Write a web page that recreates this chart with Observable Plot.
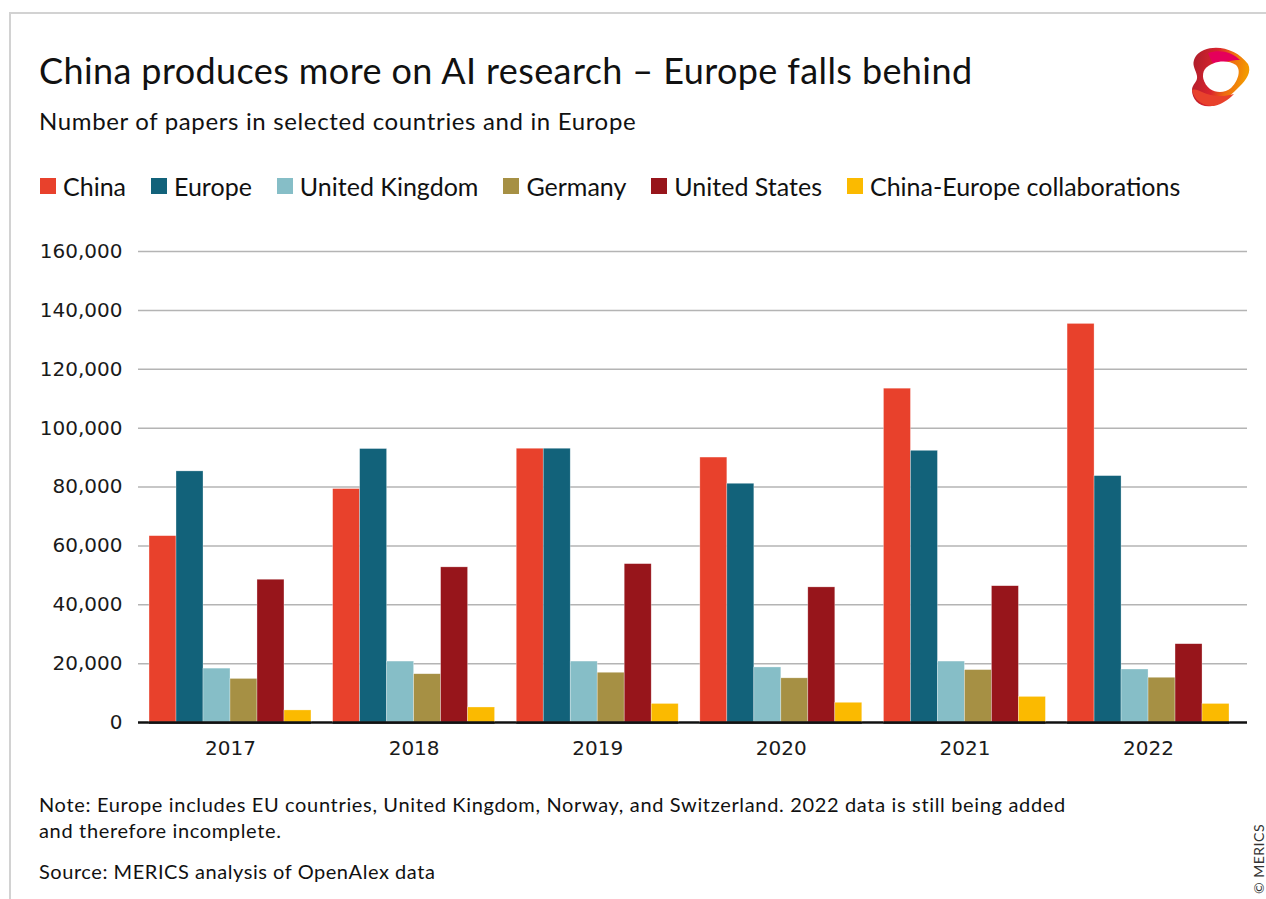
<!DOCTYPE html>
<html>
<head>
<meta charset="utf-8">
<script src="https://cdn.jsdelivr.net/npm/d3@7"></script>
<script src="https://cdn.jsdelivr.net/npm/@observablehq/plot@0.6"></script>
<style>
  html, body { margin: 0; padding: 0; background: #fff; }
  body { width: 1266px; height: 899px; position: relative; overflow: hidden; font-family: Lato, "Noto Sans", sans-serif; color: #111; }
  .frame { position: absolute; left: 9px; top: 12px; width: 1400px; height: 1000px; border-top: 2px solid #d2d2d2; border-left: 2px solid #d2d2d2; }
  .title { position: absolute; left: 39px; top: 49px; font-size: 36px; line-height: 1.2; letter-spacing: 0.4px; white-space: nowrap; }
  .subtitle { position: absolute; left: 39px; top: 107px; font-size: 24px; line-height: 1.2; letter-spacing: 0.65px; white-space: nowrap; }
  .legend { position: absolute; left: 40px; top: 171px; display: flex; align-items: center; font-size: 25px; line-height: 30px; white-space: nowrap; }
  .legend .item { display: flex; align-items: center; margin-right: 25px; }
  .legend .sw { width: 16px; height: 16px; margin-right: 7px; }
  #chart { position: absolute; left: 0; top: 230px; width: 1266px; height: 540px; }
  #chart svg { position: absolute; left: 0; top: 0; }
  .note { position: absolute; left: 39px; top: 791px; font-size: 20px; line-height: 26px; letter-spacing: 0.66px; white-space: nowrap; }
  .source { position: absolute; left: 39px; top: 858px; font-size: 20px; line-height: 26px; letter-spacing: 0.55px; white-space: nowrap; }
  .copy { position: absolute; left: 1258px; top: 859px; font-size: 14px; color: #333; transform: translate(-50%, -50%) rotate(-90deg); white-space: nowrap; letter-spacing: 0.5px; }
  .logo { position: absolute; left: 1186px; top: 42px; }
</style>
</head>
<body>
<div class="frame"></div>
<div class="title">China produces more on AI research – Europe falls behind</div>
<div class="subtitle">Number of papers in selected countries and in Europe</div>
<div class="legend" id="legend"></div>
<div id="chart"></div>
<div class="note">Note: Europe includes EU countries, United Kingdom, Norway, and Switzerland. 2022 data is still being added<br>and therefore incomplete.</div>
<div class="source">Source: MERICS analysis of OpenAlex data</div>
<div class="copy">© MERICS</div>
<svg class="logo" width="68" height="68" viewBox="0 0 68 68">
  <defs>
    <linearGradient id="lg" x1="0" y1="0" x2="1" y2="0.2">
      <stop offset="0" stop-color="#a81d2a"/>
      <stop offset="0.45" stop-color="#d9232e"/>
      <stop offset="0.7" stop-color="#ee6a12"/>
      <stop offset="1" stop-color="#f39a00"/>
    </linearGradient>
  </defs>
  <path d="M18,8 C32,2 52,8 62,22 C66,30 60,38 54,44 C46,52 38,60 26,64 C14,66 6,58 6,48 C6,42 12,40 11,34 C10,28 6,24 8,18 C10,12 14,10 18,8 Z" fill="url(#lg)"/>
  <path d="M22,11 C34,7 46,10 54,18 C44,18 36,20 30,25 C26,21 24,16 22,11 Z" fill="#e5005b"/>
  <path d="M6,48 C8,58 16,64 28,64 C36,62 42,58 48,52 C38,55 26,55 16,50 C12,48 9,47 6,48 Z" fill="#e8412c"/>
  <path d="M19,27 C26,19 41,17 50,23 C56,29 51,40 45,46 C39,51 30,51 24,47 C17,41 15,33 19,27 Z" fill="#fff"/>
</svg>
<script>
// ---- data ----
const years = ["2017", "2018", "2019", "2020", "2021", "2022"];
const series = ["China", "Europe", "United Kingdom", "Germany", "United States", "China-Europe collaborations"];
const colors = ["#e8412c", "#12627a", "#86bec7", "#a69044", "#97151b", "#fbba00"];
const china   = [63300, 79300, 93000, 90000, 113400, 135400];
const europe  = [85300, 92900, 93000, 81100, 92300, 83700];
const uk      = [18300, 20700, 20700, 18700, 20700, 18000];
const germany = [14800, 16400, 16900, 15000, 17800, 15200];
const us      = [48500, 52700, 53800, 45900, 46300, 26600];
const collab  = [4100, 5100, 6300, 6700, 8700, 6300];
const yTicks  = [0, 20000, 40000, 60000, 80000, 100000, 120000, 140000, 160000];

const values = [china, europe, uk, germany, us, collab];
const table = [];
years.forEach((yr, i) => series.forEach((s, j) => table.push({year: yr, series: s, value: values[j][i]})));

// legend
const legend = document.getElementById("legend");
series.forEach((s, j) => {
  const it = document.createElement("div");
  it.className = "item";
  it.innerHTML = `<span class="sw" style="background:${colors[j]}"></span><span>${s}</span>`;
  legend.appendChild(it);
});

const fmt = d3.format(",");
const common = {
  width: 1266,
  height: 540,
  marginLeft: 138,
  marginRight: 19,
  marginTop: 21,
  marginBottom: 48,
  style: {fontFamily: "'DejaVu Sans', sans-serif", fontSize: "20px", color: "#1a1a1a", background: "transparent"},
  y: {domain: [0, 160000], axis: null}
};

// background layer: gridlines, baseline, y tick labels
const back = Plot.plot({
  ...common,
  marks: [
    Plot.ruleY(yTicks.slice(1), {stroke: "#b4b4b4", strokeWidth: 1.5}),
    Plot.ruleY([0], {stroke: "#111", strokeWidth: 2.5}),
    Plot.text(yTicks, {y: d => d, text: d => fmt(d), frameAnchor: "left", textAnchor: "end", dx: -16, fontSize: 20, fill: "#1a1a1a"})
  ]
});

// foreground layer: grouped bars faceted by year
const front = Plot.plot({
  ...common,
  fx: {domain: years, paddingInner: 0.118, paddingOuter: 0.079, align: 0.38, round: false, label: null},
  x: {domain: series, padding: 0, round: false, axis: null},
  color: {domain: series, range: colors},
  marks: [
    Plot.barY(table, {fx: "year", x: "series", y: "value", fill: "series", stroke: "#fff", strokeWidth: 0.6, strokeOpacity: 0.5}),
    Plot.ruleY([0], {stroke: "#111", strokeWidth: 2.5}),
    Plot.axisFx({anchor: "bottom", tickSize: 0, tickPadding: 18, fontSize: 20, label: null, fill: "#1a1a1a"})
  ]
});

const host = document.getElementById("chart");
host.appendChild(back);
host.appendChild(front);
</script>
</body>
</html>
